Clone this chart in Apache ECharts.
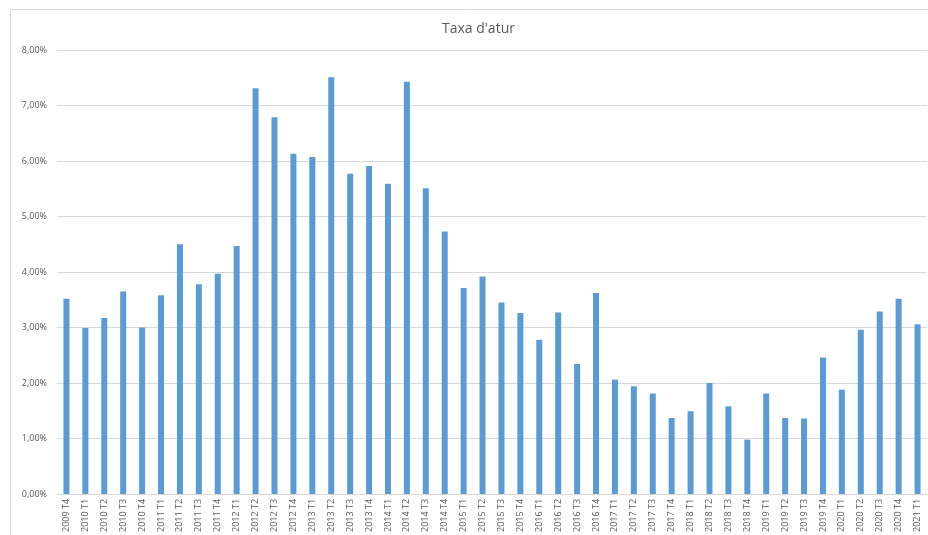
<!DOCTYPE html>
<html>
<head>
    <title>Taxa d'atur</title>
    <meta charset="utf-8">
    <script src="https://cdn.jsdelivr.net/npm/echarts@6/dist/echarts.min.js"></script>
    <style>
        html, body { margin: 0; padding: 0; background: #fff; }
    </style>
</head>
<body>
    <div id="main" style="width: 928px;height:535px;"></div>

    <script type="text/javascript">
        // quarters shown on the x axis
        var quarters = [
            '2009 T4',
            '2010 T1', '2010 T2', '2010 T3', '2010 T4',
            '2011 T1', '2011 T2', '2011 T3', '2011 T4',
            '2012 T1', '2012 T2', '2012 T3', '2012 T4',
            '2013 T1', '2013 T2', '2013 T3', '2013 T4',
            '2014 T1', '2014 T2', '2014 T3', '2014 T4',
            '2015 T1', '2015 T2', '2015 T3', '2015 T4',
            '2016 T1', '2016 T2', '2016 T3', '2016 T4',
            '2017 T1', '2017 T2', '2017 T3', '2017 T4',
            '2018 T1', '2018 T2', '2018 T3', '2018 T4',
            '2019 T1', '2019 T2', '2019 T3', '2019 T4',
            '2020 T1', '2020 T2', '2020 T3', '2020 T4',
            '2021 T1'
        ];

        // unemployment rate, in percent
        var taxaAtur = [
            3.52,
            2.99, 3.17, 3.65, 3.00,
            3.58, 4.50, 3.78, 3.97,
            4.47, 7.31, 6.79, 6.13,
            6.07, 7.51, 5.77, 5.91,
            5.59, 7.43, 5.51, 4.73,
            3.71, 3.92, 3.45, 3.26,
            2.78, 3.27, 2.34, 3.62,
            2.06, 1.94, 1.81, 1.37,
            1.49, 2.00, 1.58, 0.98,
            1.81, 1.37, 1.36, 2.46,
            1.88, 2.96, 3.29, 3.52,
            3.06
        ];

        var myChart = echarts.init(document.getElementById('main'));

        var option = {
            animation: false,
            textStyle: {
                fontFamily: '"Open Sans", sans-serif'
            },
            title: {
                text: "Taxa d'atur",
                left: 437,
                top: 17,
                textStyle: {
                    color: '#595959',
                    fontSize: 14,
                    fontWeight: 'normal'
                }
            },
            // light frame around the chart area, like the spreadsheet chart
            graphic: [{
                type: 'rect',
                shape: { x: 10.5, y: 9.5, width: 940, height: 560 },
                style: { fill: 'none', stroke: '#d9d9d9', lineWidth: 1 },
                silent: true
            }],
            grid: {
                left: 57,
                right: 1,
                top: 50,
                bottom: 40
            },
            xAxis: {
                type: 'category',
                data: quarters,
                axisTick: { show: false },
                axisLine: { lineStyle: { color: '#d9d9d9' } },
                axisLabel: {
                    rotate: 90,
                    interval: 0,
                    color: '#595959',
                    fontSize: 9,
                    margin: 5
                }
            },
            yAxis: {
                type: 'value',
                min: 0,
                max: 8,
                interval: 1,
                axisLine: { show: false },
                axisTick: { show: false },
                splitLine: { lineStyle: { color: '#d9d9d9' } },
                axisLabel: {
                    color: '#595959',
                    fontSize: 9,
                    margin: 10,
                    formatter: function(v) {
                        return v.toFixed(2).replace('.', ',') + '%';
                    }
                }
            },
            series: [{
                name: "Taxa d'atur",
                type: 'bar',
                data: taxaAtur,
                barWidth: 6,
                itemStyle: { color: '#5b9bd5' }
            }]
        };

        myChart.setOption(option);
    </script>
</body>
</html>
